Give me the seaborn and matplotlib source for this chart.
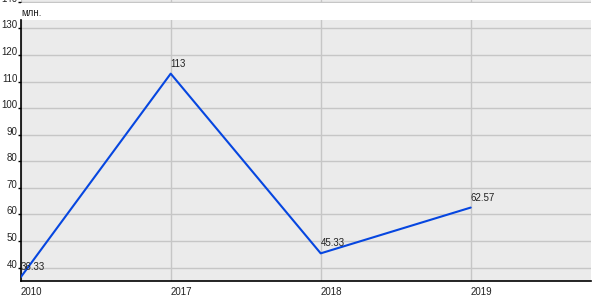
import matplotlib
matplotlib.use("Agg")
import matplotlib.pyplot as plt
import seaborn as sns
import pandas as pd

years = ["2010", "2017", "2018", "2019"]
values = [36.33, 113, 45.33, 62.57]
labels = ["36.33", "113", "45.33", "62.57"]
y_ticks = [40, 50, 60, 70, 80, 90, 100, 110, 120, 130, 140]
unit_label = "млн."

sns.set_theme(style="white")
plt.rcParams["font.family"] = ["Liberation Sans", "DejaVu Sans"]

W, H = 600, 300
fig = plt.figure(figsize=(6, 3), dpi=100)
left_px, right_px, bottom_px, top_px = 20.7, 590.7, 281, 0
ax = fig.add_axes([left_px / W, 1 - bottom_px / H, (right_px - left_px) / W, (bottom_px - top_px) / H])

k = 2.656  # px per unit
ymin = 40 - 13.5 / k
ymax = 130 + 28.5 / k

df = pd.DataFrame({"year": years, "value": values})
sns.lineplot(data=df, x="year", y="value", ax=ax, color="#0646e0", linewidth=1.5, zorder=3)

ax.set_facecolor("#EBEBEB")
ax.set_xlim(0, 3.8)
ax.set_ylim(ymin, ymax)
ax.set_yticks(y_ticks)
ax.set_xlabel("")
ax.set_ylabel("")

ax.set_axisbelow(True)
ax.grid(True, color="#C6C6C6", linewidth=1.0)

y_at = lambda px: ymax - px / k
ax.axhspan(y_at(20), y_at(3), color="white", zorder=1.5, linewidth=0)

for s in ["top", "right"]:
    ax.spines[s].set_visible(False)
ax.spines["left"].set_color("black")
ax.spines["bottom"].set_color("black")
ax.spines["left"].set_linewidth(1.2)
ax.spines["bottom"].set_linewidth(1.2)
ax.spines["left"].set_bounds(ymin, y_at(20))

fs = 7
ax.tick_params(axis="x", length=0, pad=4, labelsize=fs, labelcolor="#222222")
ax.tick_params(axis="y", length=2, width=1, color="black", pad=0.5, labelsize=fs, labelcolor="#222222", left=True)
for t in ax.get_xticklabels():
    t.set_ha("left")
for t in ax.get_yticklabels():
    t.set_va("baseline")

for i, (v, lab) in enumerate(zip(values, labels)):
    ax.annotate(lab, xy=(i, v), xytext=(0, 7), textcoords="offset pixels",
                ha="left", va="baseline", fontsize=fs, color="#222222", zorder=4)

fig.text(21 / W, 1 - 15.5 / H, unit_label, fontsize=fs, color="#222222", ha="left", va="baseline")

fig.savefig("out.png", dpi=100, facecolor="white")
